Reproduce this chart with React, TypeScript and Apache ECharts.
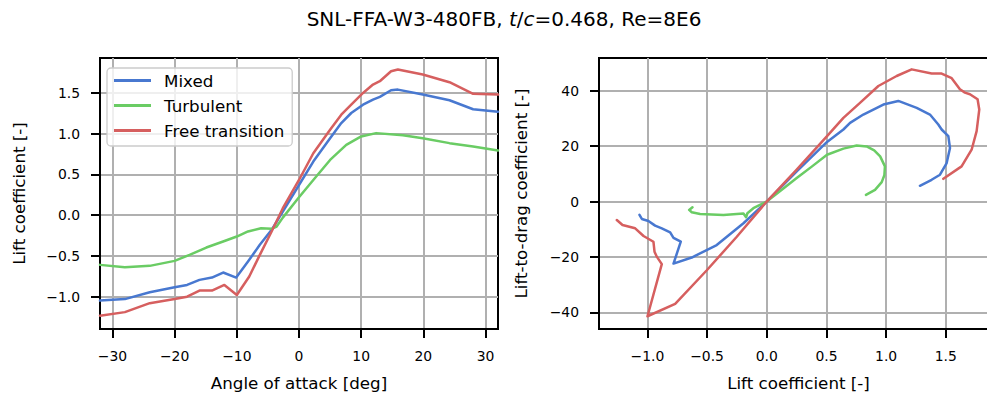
import React, { useEffect, useRef } from 'react';
import * as echarts from 'echarts';

// ---- Left plot: lift coefficient vs angle of attack ----
const alphaMixed = [-32, -28, -24, -20, -18, -16, -14, -12.2, -10.1, -8.2, -6.3, -4.4, -2.6, 0, 2.3, 5, 6.8, 8.4, 10.3, 11.9, 13, 14.8, 15.9, 19.9, 24.2, 28, 32];
const clMixed = [-1.048, -1.03, -0.946, -0.885, -0.856, -0.794, -0.766, -0.704, -0.766, -0.569, -0.364, -0.18, 0.045, 0.37, 0.658, 0.945, 1.13, 1.254, 1.356, 1.418, 1.451, 1.533, 1.541, 1.48, 1.41, 1.3, 1.27];

const alphaTurb = [-32, -28, -24, -20, -17.6, -14.9, -12.2, -10, -8.2, -6.1, -4.4, -3.6, -2.6, 0, 2.3, 5, 7.6, 10, 12.4, 16.7, 19.9, 24.2, 28, 32];
const clTurb = [-0.61, -0.639, -0.622, -0.561, -0.487, -0.397, -0.323, -0.262, -0.2, -0.16, -0.168, -0.139, -0.03, 0.22, 0.432, 0.678, 0.863, 0.966, 1.007, 0.98, 0.945, 0.884, 0.844, 0.794];

const alphaFree = [-32, -28, -24, -20, -18, -16, -14, -12, -10, -8, -6.3, -4.4, -2.6, 0, 2.3, 5, 6.8, 8.4, 10.3, 11.9, 13, 14.8, 15.9, 19.9, 24.2, 28, 32];
const clFree = [-1.233, -1.19, -1.08, -1.03, -1.0, -0.925, -0.925, -0.856, -0.979, -0.753, -0.487, -0.2, 0.086, 0.432, 0.76, 1.048, 1.233, 1.356, 1.5, 1.603, 1.644, 1.767, 1.788, 1.726, 1.632, 1.49, 1.48];

// ---- Right plot: lift-to-drag vs lift coefficient ----
const polarClMixed = [-1.066, -1.046, -0.991, -0.935, -0.879, -0.809, -0.781, -0.72, -0.781, -0.628, -0.419, -0.195, 0, 0.251, 0.505, 0.642, 0.698, 0.809, 0.977, 1.102, 1.256, 1.367, 1.437, 1.465, 1.521, 1.535, 1.507, 1.451, 1.381, 1.283];
const polarLdMixed = [-4.83, -6.28, -7.01, -8.7, -9.67, -11.1, -13.1, -14.5, -22.4, -20.2, -15.7, -7.85, 0, 10.9, 21.5, 26.0, 28.4, 31.4, 35.0, 36.3, 33.8, 31.4, 27.8, 26.0, 23.6, 19.3, 13.9, 9.67, 7.85, 5.68];

const polarClTurb = [-0.622, -0.65, -0.628, -0.558, -0.363, -0.195, -0.173, -0.162, -0.112, 0, 0.126, 0.251, 0.377, 0.505, 0.642, 0.753, 0.837, 0.9, 0.95, 0.99, 0.985, 0.963, 0.907, 0.831];
const polarLdTurb = [-2.05, -3.02, -3.87, -4.47, -4.83, -4.35, -5.68, -4.23, -2.42, 0, 4.23, 8.46, 12.6, 16.9, 19.1, 20.2, 19.9, 18.5, 16.3, 12.7, 9.5, 7.0, 4.23, 2.42];

const polarClFree = [-1.256, -1.208, -1.102, -1.032, -0.949, -0.94, -0.921, -0.879, -0.999, -0.767, -0.502, -0.251, 0, 0.251, 0.505, 0.642, 0.781, 0.935, 1.088, 1.214, 1.381, 1.465, 1.549, 1.618, 1.66, 1.702, 1.766, 1.78, 1.758, 1.716, 1.632, 1.479];
const polarLdFree = [-6.65, -8.46, -9.67, -12.45, -14.5, -18.1, -19.9, -22.6, -41.4, -36.9, -24.8, -12.7, 0, 11.5, 23.6, 30.2, 35.6, 41.7, 45.3, 47.7, 46.2, 46.2, 44.5, 40.5, 39.3, 38.7, 36.9, 33.2, 25.4, 18.7, 12.7, 8.2];

// ---- Ticks / labels ----
const leftXTicks = [-30, -20, -10, 0, 10, 20, 30];
const leftYTicks = [-1, -0.5, 0, 0.5, 1, 1.5];
const rightXTicks = [-1, -0.5, 0, 0.5, 1, 1.5];
const rightYTicks = [-40, -20, 0, 20, 40];
const seriesNames = ['Mixed', 'Turbulent', 'Free transition'];
const seriesColors = ['#4878d0', '#6acc64', '#d65f5f'];
const titleText = 'SNL-FFA-W3-480FB, {it|t}/{it|c}=0.468, Re=8E6';
const leftXLabel = 'Angle of attack [deg]';
const leftYLabel = 'Lift coefficient [-]';
const rightXLabel = 'Lift coefficient [-]';
const rightYLabel = 'Lift-to-drag coefficient [-]';

const FONT = 'DejaVu Sans';

const zip = (xs: number[], ys: number[]) => xs.map((x, i) => [x, ys[i]]);
const fmt = (d: number) => (v: number) => {
  const s = Math.abs(v).toFixed(d);
  return (v < -1e-9 ? '\u2212' : '') + s;
};

function makeAxis(
  gridIndex: number,
  min: number,
  max: number,
  ticks: number[],
  decimals: number,
  name: string,
  nameGap: number
) {
  return {
    type: 'value',
    gridIndex,
    min,
    max,
    name,
    nameLocation: 'middle',
    nameGap,
    nameTextStyle: { fontFamily: FONT, fontSize: 16.7, color: '#000' },
    axisLine: { show: true, onZero: false, lineStyle: { color: '#000', width: 2 } },
    axisTick: {
      show: true,
      inside: false,
      length: 9,
      customValues: ticks,
      lineStyle: { color: '#000', width: 2 },
    },
    axisLabel: {
      show: true,
      customValues: ticks,
      margin: 20,
      fontFamily: FONT,
      fontSize: 13.9,
      color: '#000',
      formatter: fmt(decimals),
    },
    splitLine: { show: true, lineStyle: { color: '#b0b0b0', width: 2 } },
  };
}

export default function App() {
  const ref = useRef<HTMLDivElement>(null);

  useEffect(() => {
    if (!ref.current) return;
    const chart = echarts.init(ref.current, undefined, { renderer: 'svg' });

    const leftData = [zip(alphaMixed, clMixed), zip(alphaTurb, clTurb), zip(alphaFree, clFree)];
    const rightData = [zip(polarClMixed, polarLdMixed), zip(polarClTurb, polarLdTurb), zip(polarClFree, polarLdFree)];

    const series: any[] = [];
    seriesNames.forEach((n, i) => {
      series.push({
        type: 'line',
        name: n,
        xAxisIndex: 0,
        yAxisIndex: 0,
        data: leftData[i],
        showSymbol: false,
        symbol: 'none',
        color: seriesColors[i],
        lineStyle: { color: seriesColors[i], width: 2.5, join: 'round', cap: 'round' },
        z: 3,
      });
    });
    seriesNames.forEach((n, i) => {
      series.push({
        type: 'line',
        name: n,
        xAxisIndex: 1,
        yAxisIndex: 1,
        data: rightData[i],
        showSymbol: false,
        symbol: 'none',
        color: seriesColors[i],
        lineStyle: { color: seriesColors[i], width: 2.5, join: 'round', cap: 'round' },
        z: 3,
      });
    });

    chart.setOption({
      animation: false,
      backgroundColor: '#ffffff',
      textStyle: { fontFamily: FONT },
      grid: [
        { left: 100, top: 58, width: 398, height: 271, show: true, borderColor: '#000', borderWidth: 2, backgroundColor: 'transparent', containLabel: false, outerBoundsMode: 'none' },
        { left: 599, top: 58, width: 399, height: 271, show: true, borderColor: '#000', borderWidth: 2, backgroundColor: 'transparent', containLabel: false, outerBoundsMode: 'none' },
      ],
      xAxis: [
        makeAxis(0, -32, 32, leftXTicks, 0, leftXLabel, 45),
        makeAxis(1, -1.405, 1.937, rightXTicks, 1, rightXLabel, 45),
      ],
      yAxis: [
        makeAxis(0, -1.397, 1.929, leftYTicks, 1, leftYLabel, 73),
        makeAxis(1, -46.0, 51.8, rightYTicks, 0, rightYLabel, 70),
      ],
      legend: {
        show: true,
        data: seriesNames,
        orient: 'vertical',
        left: 107,
        top: 68,
        padding: [3, 8, 6, 7],
        itemWidth: 37,
        itemHeight: 3,
        itemGap: 6,
        icon: 'rect',
        backgroundColor: 'rgba(255,255,255,0.8)',
        borderColor: '#cccccc',
        borderWidth: 1.3,
        borderRadius: 4,
        z: 10,
        textStyle: { fontFamily: FONT, fontSize: 16.7, color: '#000', lineHeight: 19, padding: [0, 0, 0, 8] },
      },
      graphic: [
        {
          type: 'text',
          x: 504,
          y: 19,
          z: 10,
          style: {
            text: titleText,
            fontFamily: FONT,
            fontSize: 20,
            fill: '#000',
            align: 'center',
            verticalAlign: 'middle',
            rich: {
              it: { fontFamily: FONT, fontSize: 20, fontStyle: 'italic', fill: '#000' },
            },
          },
        },
      ],
      series,
    });

    return () => {
      chart.dispose();
    };
  }, []);

  return (
    <div
      ref={ref}
      style={{ position: 'absolute', left: 0, top: 0, width: 987, height: 398, background: '#fff' }}
    />
  );
}
